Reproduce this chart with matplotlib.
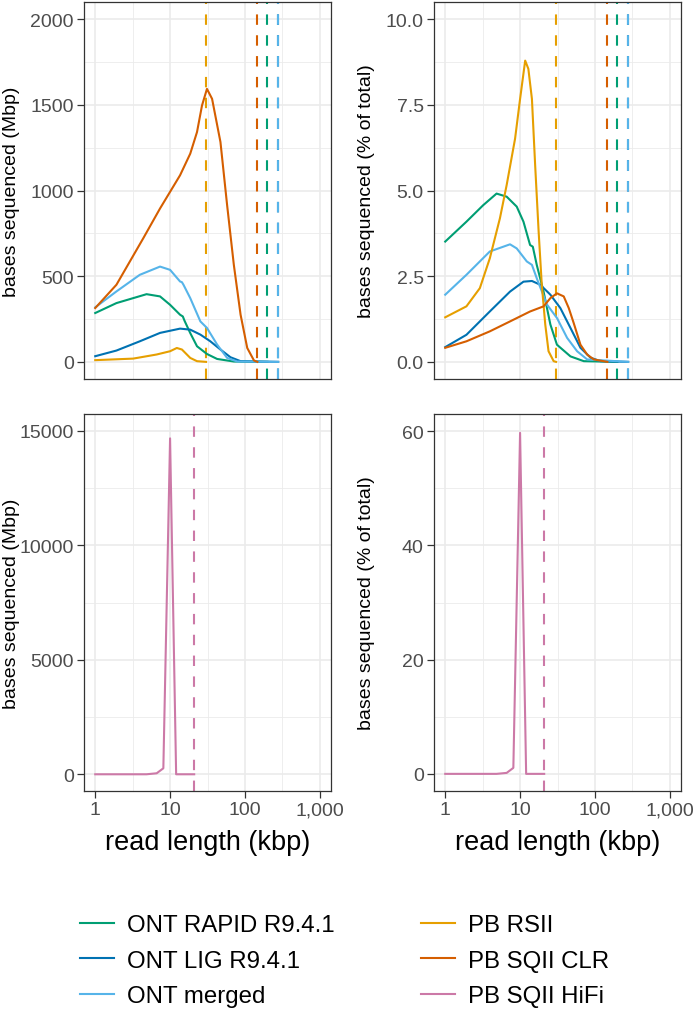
import matplotlib
matplotlib.use("Agg")
import matplotlib.pyplot as plt
from matplotlib.ticker import FixedLocator, FuncFormatter, NullFormatter
from matplotlib.lines import Line2D

plt.rcParams['font.family'] = ['Liberation Sans', 'DejaVu Sans']

# ---------------- data ----------------
series_names = ["ONT RAPID R9.4.1", "ONT LIG R9.4.1", "ONT merged",
                "PB RSII", "PB SQII CLR", "PB SQII HiFi"]
series_colors = ["#009E73", "#0072B2", "#56B4E9", "#E69F00", "#D55E00", "#CC79A7"]
max_read_kbp = [200, 278, 278, 30.2, 146.6, 21.0]

# top row: Mbp
rapid_mbp_x = [1, 1.92, 4.85, 7.34, 10, 13.6, 14.8, 15.6, 18.6, 22.9, 31.1, 42.5, 71.1, 200]
rapid_mbp_y = [285, 343, 395, 382, 333, 275, 265, 240, 168, 91, 46, 17, 2, 0]
lig_mbp_x = [1, 1.92, 3.94, 7.34, 13.6, 18.6, 25.4, 34.5, 47.1, 64.1, 87.5, 278]
lig_mbp_y = [33, 66, 120, 169, 194, 188, 159, 120, 72, 27, 4, 0]
merged_mbp_x = [1, 1.92, 3.94, 7.34, 10, 13.6, 14.4, 15.1, 18.6, 25.4, 31.1, 42.5, 57.8, 78.9, 278]
merged_mbp_y = [318, 411, 508, 556, 537, 469, 465, 450, 372, 236, 198, 101, 23, 2, 0]
rsii_mbp_x = [1, 3.21, 6.62, 10, 12.3, 14.4, 18.6, 22.9, 30.2]
rsii_mbp_y = [10, 19, 43, 62, 81, 72, 23, 4, 0]
clr_mbp_x = [1, 1.92, 4.38, 7.34, 13.6, 18.6, 22.9, 26.7, 31.1, 36.4, 47.1, 57.8, 71.1, 87.5, 107.4, 132.1, 146.6]
clr_mbp_y = [314, 450, 721, 895, 1089, 1215, 1341, 1496, 1593, 1535, 1283, 915, 566, 275, 81, 8, 0]

# top row: % of total
rapid_pct_x = [1, 1.92, 3.21, 4.85, 6.62, 9.02, 11.1, 13.6, 14.8, 16.7, 20.6, 25.4, 31.1, 47.1, 71.1, 200]
rapid_pct_y = [3.51, 4.09, 4.57, 4.91, 4.82, 4.53, 4.09, 3.41, 3.36, 2.83, 2.05, 1.09, 0.50, 0.16, 0.02, 0]
lig_pct_x = [1, 1.92, 3.94, 7.34, 11.1, 14.4, 18.6, 25.4, 34.5, 47.1, 64.1, 87.5, 119, 278]
lig_pct_y = [0.43, 0.79, 1.47, 2.05, 2.34, 2.36, 2.25, 1.96, 1.57, 0.99, 0.41, 0.12, 0.02, 0]
merged_pct_x = [1, 1.92, 3.94, 7.34, 9.02, 12.3, 14.4, 16.7, 22.9, 31.1, 42.5, 57.8, 78.9, 278]
merged_pct_y = [1.96, 2.54, 3.22, 3.43, 3.31, 2.93, 2.83, 2.44, 1.67, 1.28, 0.70, 0.31, 0.07, 0]
rsii_pct_x = [1, 1.92, 2.9, 3.94, 5.38, 6.62, 8.57, 10, 11.7, 12.9, 14.4, 15.9, 17.7, 19.5, 21.7, 24.0, 28.1, 30.2]
rsii_pct_y = [1.30, 1.62, 2.15, 3.02, 4.19, 5.16, 6.51, 7.67, 8.79, 8.55, 7.67, 5.74, 3.80, 2.25, 1.09, 0.31, 0.02, 0]
clr_pct_x = [1, 1.92, 3.94, 7.34, 13.6, 20.6, 25.4, 31.1, 38.3, 44.7, 52.1, 64.1, 78.9, 97.0, 146.6]
clr_pct_y = [0.41, 0.60, 0.89, 1.18, 1.47, 1.62, 1.86, 2.0, 1.91, 1.57, 1.13, 0.50, 0.21, 0.07, 0]

# bottom row: HiFi
hifi_x = [1, 4.85, 6.62, 8.13, 10, 12.05, 21.0]
hifi_mbp_y = [0, 0, 44, 261, 14666, 0, 0]
hifi_pct_y = [0, 0, 0.17, 1.05, 59.7, 0, 0]

x_ticks = [1, 10, 100, 1000]
x_minor = [10 ** 0.5, 10 ** 1.5, 10 ** 2.5]

# ---------------- figure ----------------
W, H = 700, 1012
fig = plt.figure(figsize=(W / 100, H / 100), dpi=100)


def rect(l, t, r, b):
    return [l / W, 1 - b / H, (r - l) / W, (b - t) / H]


ax_tl = fig.add_axes(rect(84, 3, 331, 380))
ax_tr = fig.add_axes(rect(434, 3, 681, 380))
ax_bl = fig.add_axes(rect(84, 415, 331, 792))
ax_br = fig.add_axes(rect(434, 415, 681, 792))


def style(ax, ylim, yticks, ylabels, yminor, show_x, ylabel, lab_x):
    ax.set_xscale('log')
    ax.set_xlim(10 ** -0.15, 10 ** 3.15)
    ax.set_ylim(*ylim)
    ax.xaxis.set_major_locator(FixedLocator(x_ticks))
    ax.xaxis.set_minor_locator(FixedLocator(x_minor))
    ax.xaxis.set_major_formatter(FuncFormatter(lambda v, p: f"{int(round(v)):,}"))
    ax.xaxis.set_minor_formatter(NullFormatter())
    ax.yaxis.set_major_locator(FixedLocator(yticks))
    ax.set_yticklabels(ylabels)
    ax.yaxis.set_minor_locator(FixedLocator(yminor))
    ax.grid(which='major', color='#EBEBEB', lw=1.2)
    ax.grid(which='minor', color='#EBEBEB', lw=0.6)
    ax.set_axisbelow(True)
    ax.tick_params(which='minor', length=0)
    ax.tick_params(which='major', length=4.8, width=0.9, color='#333333',
                   labelsize=14, labelcolor='#4D4D4D', pad=2.6)
    if not show_x:
        ax.tick_params(axis='x', which='both', length=0, labelbottom=False)
    else:
        ax.set_xlabel("read length (kbp)", fontsize=19.5, color='black')
        ax.xaxis.set_label_coords(0.5, -0.1)
    for s in ax.spines.values():
        s.set_color('#333333')
        s.set_linewidth(0.9)
    ax.set_ylabel(ylabel, fontsize=14, color='black')
    ax.yaxis.set_label_coords(lab_x, 0.5)


style(ax_tl, (-100, 2100), [0, 500, 1000, 1500, 2000], ["0", "500", "1000", "1500", "2000"],
      [250, 750, 1250, 1750], False, "bases sequenced (Mbp)", -0.259)
style(ax_tr, (-0.5, 10.5), [0, 2.5, 5, 7.5, 10], ["0.0", "2.5", "5.0", "7.5", "10.0"],
      [1.25, 3.75, 6.25, 8.75], False, "bases sequenced (% of total)", -0.239)
style(ax_bl, (-730, 15730), [0, 5000, 10000, 15000], ["0", "5000", "10000", "15000"],
      [2500, 7500, 12500], True, "bases sequenced (Mbp)", -0.259)
style(ax_br, (-3, 63), [0, 20, 40, 60], ["0", "20", "40", "60"],
      [10, 30, 50], True, "bases sequenced (% of total)", -0.239)

dash = (0, (5, 5))
top_mbp = [(rapid_mbp_x, rapid_mbp_y), (lig_mbp_x, lig_mbp_y), (merged_mbp_x, merged_mbp_y),
           (rsii_mbp_x, rsii_mbp_y), (clr_mbp_x, clr_mbp_y)]
top_pct = [(rapid_pct_x, rapid_pct_y), (lig_pct_x, lig_pct_y), (merged_pct_x, merged_pct_y),
           (rsii_pct_x, rsii_pct_y), (clr_pct_x, clr_pct_y)]

for ax, data in [(ax_tl, top_mbp), (ax_tr, top_pct)]:
    for i in range(5):
        ax.axvline(max_read_kbp[i], color=series_colors[i], lw=1.5, ls=dash, zorder=1.5)
    for i, (xs, ys) in enumerate(data):
        ax.plot(xs, ys, color=series_colors[i], lw=1.5, zorder=2, solid_joinstyle='round')

for ax, ys in [(ax_bl, hifi_mbp_y), (ax_br, hifi_pct_y)]:
    ax.axvline(max_read_kbp[5], color=series_colors[5], lw=1.5, ls=dash, zorder=1.5)
    ax.plot(hifi_x, ys, color=series_colors[5], lw=1.5, zorder=2)

handles = [Line2D([], [], color=c, lw=1.5) for c in series_colors]
fig.legend(handles, series_names, loc='upper left', bbox_to_anchor=(80 / W, 1 - 915 / H),
           ncol=2, frameon=False, fontsize=17.3, handlelength=1.4, handletextpad=0.55,
           columnspacing=3.6, labelspacing=0.57, borderpad=0, borderaxespad=0)

fig.savefig("out.png", dpi=100)
